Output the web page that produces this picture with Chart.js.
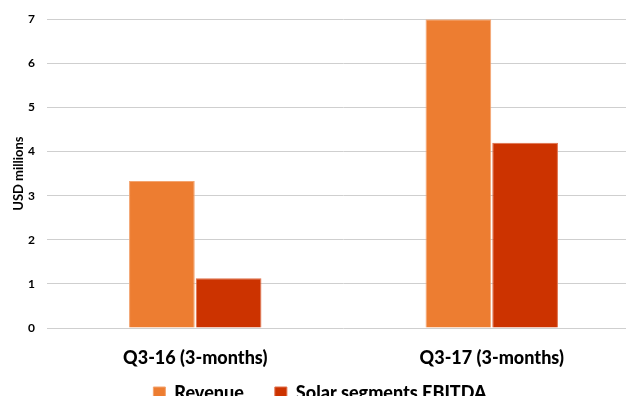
<!DOCTYPE html>
<html>
<head>
<meta charset="utf-8">
<script src="https://cdn.jsdelivr.net/npm/chart.js@4/dist/chart.umd.min.js"></script>
<style>
  html, body { margin: 0; padding: 0; background: #fff; }
  #wrap { width: 626px; height: 396px; overflow: hidden; position: relative; }
  canvas { display: block; }
</style>
</head>
<body>
<div id="wrap"><canvas id="c" width="640" height="412"></canvas></div>
<script>
// Quarterly figures, USD millions
const categories = ['Q3-16 (3-months)', 'Q3-17 (3-months)'];
const revenue = [3.33, 7.0];
const solarEbitda = [1.13, 4.2];
const yTicks = [0, 1, 2, 3, 4, 5, 6, 7];

const FONT = 'Lato, "Open Sans", sans-serif';

new Chart(document.getElementById('c'), {
  type: 'bar',
  data: {
    labels: categories,
    datasets: [
      {
        label: 'Revenue',
        data: revenue,
        backgroundColor: '#ED7D31',
        borderColor: '#F3A470',
        borderWidth: 1,
        categoryPercentage: 0.45,
        barPercentage: 0.985
      },
      {
        label: 'Solar segments EBITDA',
        data: solarEbitda,
        backgroundColor: '#CC3300',
        borderColor: '#E0704A',
        borderWidth: 1,
        categoryPercentage: 0.45,
        barPercentage: 0.985
      }
    ]
  },
  options: {
    responsive: false,
    animation: false,
    layout: { padding: { top: 14, left: 0, right: 0, bottom: 0 } },
    plugins: {
      tooltip: { enabled: false },
      legend: {
        position: 'bottom',
        labels: {
          boxWidth: 12,
          boxHeight: 12,
          padding: 31,
          color: '#000',
          font: { family: FONT, size: 18, weight: '900' }
        }
      }
    },
    scales: {
      x: {
        // mirrored labels are not clipped to the axis box, so the box can stay
        // short; a negative padding drops them back below the baseline
        afterFit: (s) => { s.height = 25; },
        grid: { display: false, drawTicks: false },
        border: { display: false },
        ticks: {
          mirror: true,
          padding: -41,
          color: '#000',
          font: { family: FONT, size: 18, weight: '900' }
        }
      },
      y: {
        min: 0,
        max: 7,
        afterFit: (s) => { s.width = 47; },
        afterBuildTicks: (s) => { s.ticks = yTicks.map(v => ({ value: v })); },
        grid: { color: '#CFCFCF', lineWidth: 1, drawTicks: false },
        border: { display: false },
        ticks: {
          padding: 12,
          color: '#000',
          font: { family: FONT, size: 12, weight: 'bold' }
        },
        title: {
          display: true,
          text: 'USD millions',
          color: '#000',
          padding: { top: 11, bottom: 0 },
          font: { family: FONT, size: 13, weight: 'bold' }
        }
      }
    }
  }
});
</script>
</body>
</html>
